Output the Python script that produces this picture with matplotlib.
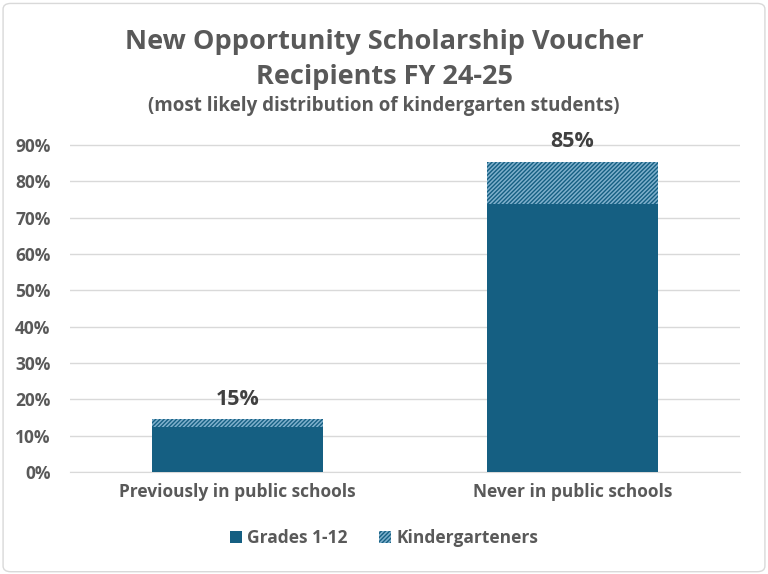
import matplotlib
matplotlib.use("Agg")
import matplotlib.pyplot as plt
from matplotlib.patches import FancyBboxPatch, Patch
import numpy as np

plt.rcParams['font.family'] = ['Open Sans', 'DejaVu Sans']
plt.rcParams['hatch.linewidth'] = 1.0

categories = ["Previously in public schools", "Never in public schools"]
grades = [12.3, 73.7]
kinder = [2.2, 11.8]
totals = ["15%", "85%"]

dark = "#155F82"
light = "#7fb0cc"
grey = "#595959"

fig = plt.figure(figsize=(7.68, 5.74), dpi=100)
ax = fig.add_axes([70 / 768, 1 - 472 / 574, 670 / 768, (472 - 127) / 574])

x = np.arange(len(categories))
ax.bar(x, grades, width=0.51, color=dark, label="Grades 1-12", zorder=3)
plt.rcParams['hatch.color'] = dark
ax.bar(x, kinder, bottom=grades, width=0.51, color=light, hatch="////////",
       edgecolor=dark, linewidth=0, label="Kindergarteners", zorder=3)

for xi, g, k, t in zip(x, grades, kinder, totals):
    ax.text(xi, g + k + 2.6, t, ha="center", va="bottom", fontsize=15.5,
            fontweight="bold", color="#404040", zorder=4)

ax.set_xlim(-0.5, 1.5)
ax.set_ylim(0, 95)
ax.set_yticks(np.arange(0, 91, 10))
ax.set_yticklabels([f"{v}%" for v in range(0, 91, 10)])
ax.set_xticks(x)
ax.set_xticklabels(categories)
ax.grid(axis="y", color="#d9d9d9", linewidth=1, zorder=0)
for s in ax.spines.values():
    s.set_visible(False)
ax.spines["bottom"].set_visible(True)
ax.spines["bottom"].set_color("#d9d9d9")
ax.tick_params(length=0, labelsize=12.5, labelcolor=grey)
ax.tick_params(axis="y", pad=14)
ax.tick_params(axis="x", pad=8)
for lab in ax.get_xticklabels() + ax.get_yticklabels():
    lab.set_fontweight("bold")

fig.text(0.5, 1 - 42 / 574, "New Opportunity Scholarship Voucher", ha="center", va="center",
         fontsize=19.5, fontweight="bold", color=grey)
fig.text(0.5, 1 - 77 / 574, "Recipients FY 24-25", ha="center", va="center",
         fontsize=19.5, fontweight="bold", color=grey)
fig.text(0.5, 1 - 106 / 574, "(most likely distribution of kindergarten students)", ha="center",
         va="center", fontsize=13.5, fontweight="bold", color=grey)

handles = [Patch(facecolor=dark, label="Grades 1-12"),
           Patch(facecolor=light, hatch="////////", edgecolor=dark, linewidth=0,
                 label="Kindergarteners")]
leg = fig.legend(handles=handles, loc="center", bbox_to_anchor=(0.5, 1 - 538 / 574), ncol=2,
                 frameon=False, fontsize=12.5, handlelength=0.7, handleheight=0.7,
                 columnspacing=1.8, handletextpad=0.3)
for t in leg.get_texts():
    t.set_color(grey)
    t.set_fontweight("bold")

border = FancyBboxPatch((0.004, 0.004), 0.992, 0.99, boxstyle="round,pad=0,rounding_size=0.01",
                        transform=fig.transFigure, fill=False, edgecolor="#d9d9d9", linewidth=1)
fig.patches.append(border)

fig.savefig("out.png", dpi=100)
